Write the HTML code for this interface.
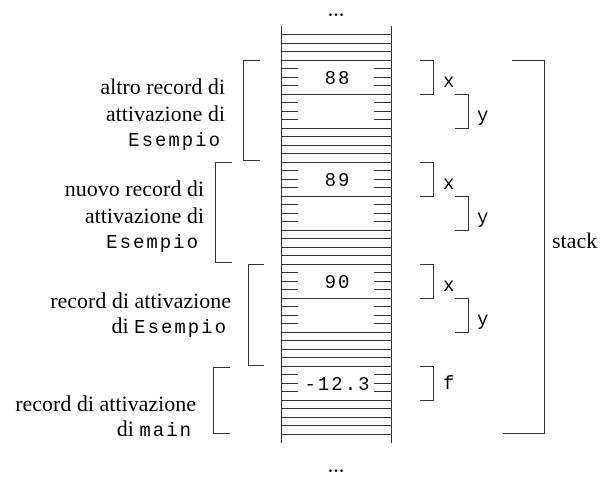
<!DOCTYPE html>
<html><head><style>
html,body{margin:0;padding:0;background:#fff;}
svg{display:block;}
.s{font-family:"Liberation Serif",serif;font-size:22px;fill:#000;}
.m{font-family:"Liberation Mono",monospace;font-size:19px;fill:#000;letter-spacing:2px;}
</style></head><body>
<svg width="612" height="477" viewBox="0 0 612 477" xmlns="http://www.w3.org/2000/svg">
<g stroke="#333" fill="none" stroke-width="1">
<line x1="281.5" y1="26" x2="281.5" y2="443"/>
<line x1="391.5" y1="26" x2="391.5" y2="443"/>
<path d="M281 34.5H391M281 43.5H391M281 51.5H391M281 60.5H391M281 94.5H391M281 128.5H391M281 136.5H391M281 145.5H391M281 153.5H391M281 162.5H391M281 196.5H391M281 230.5H391M281 238.5H391M281 247.5H391M281 255.5H391M281 264.5H391M281 298.5H391M281 332.5H391M281 340.5H391M281 349.5H391M281 357.5H391M281 366.5H391M281 400.5H391M281 408.5H391M281 417.5H391M281 425.5H391M281 434.5H391"/>
<path d="M281 68.5H298M281 77.5H298M281 85.5H298M281 102.5H298M281 111.5H298M281 119.5H298M281 170.5H298M281 179.5H298M281 187.5H298M281 204.5H298M281 213.5H298M281 221.5H298M281 272.5H298M281 281.5H298M281 289.5H298M281 306.5H298M281 315.5H298M281 323.5H298M281 374.5H298M281 383.5H298M281 391.5H298"/>
<path d="M374 68.5H391M374 77.5H391M374 85.5H391M374 102.5H391M374 111.5H391M374 119.5H391M374 170.5H391M374 179.5H391M374 187.5H391M374 204.5H391M374 213.5H391M374 221.5H391M374 272.5H391M374 281.5H391M374 289.5H391M374 306.5H391M374 315.5H391M374 323.5H391M374 374.5H391M374 383.5H391M374 391.5H391"/>
<polyline points="260,60.5 243.5,60.5 243.5,160.5 260,160.5"/>
<polyline points="232,162.5 215.5,162.5 215.5,262.5 232,262.5"/>
<polyline points="264,264.5 248.5,264.5 248.5,365.5 264,365.5"/>
<polyline points="230,367.5 213.5,367.5 213.5,433.5 230,433.5"/>
<polyline points="420,60.5 433.5,60.5 433.5,94.5 420,94.5"/>
<polyline points="455,94.5 468.5,94.5 468.5,128.5 455,128.5"/>
<polyline points="420,162.5 433.5,162.5 433.5,196.5 420,196.5"/>
<polyline points="455,196.5 468.5,196.5 468.5,230.5 455,230.5"/>
<polyline points="420,264.5 433.5,264.5 433.5,298.5 420,298.5"/>
<polyline points="455,298.5 468.5,298.5 468.5,332.5 455,332.5"/>
<polyline points="420,366.5 433.5,366.5 433.5,400.5 420,400.5"/>
<polyline points="512,60.5 544.5,60.5 544.5,433.5 503,433.5"/>
</g>
<text class="m" x="338" y="84" text-anchor="middle">88</text>
<text class="m" x="338" y="186" text-anchor="middle">89</text>
<text class="m" x="338" y="288" text-anchor="middle">90</text>
<text class="m" x="338" y="390" text-anchor="middle">-12.3</text>
<text class="s" x="336" y="16" text-anchor="middle">...</text>
<text class="s" x="336" y="472" text-anchor="middle">...</text>
<text class="m" x="443" y="87">x</text><text class="m" x="477" y="121">y</text>
<text class="m" x="443" y="189">x</text><text class="m" x="477" y="223">y</text>
<text class="m" x="443" y="291">x</text><text class="m" x="477" y="325">y</text>
<text class="m" x="443" y="389">f</text>
<text class="s" x="552" y="248">stack</text>
<g text-anchor="end">
<text class="s" x="225" y="94">altro record di</text>
<text class="s" x="225" y="121">attivazione di</text>
<text class="m" x="222" y="146">Esempio</text>
<text class="s" x="204" y="196">nuovo record di</text>
<text class="s" x="204" y="223">attivazione di</text>
<text class="m" x="200" y="248">Esempio</text>
<text class="s" x="231" y="308">record di attivazione</text>
<text class="s" x="228" y="333">di <tspan class="m">Esempio</tspan></text>
<text class="s" x="196" y="411">record di attivazione</text>
<text class="s" x="193" y="436">di <tspan class="m">main</tspan></text>
</g>
</svg>
</body></html>
